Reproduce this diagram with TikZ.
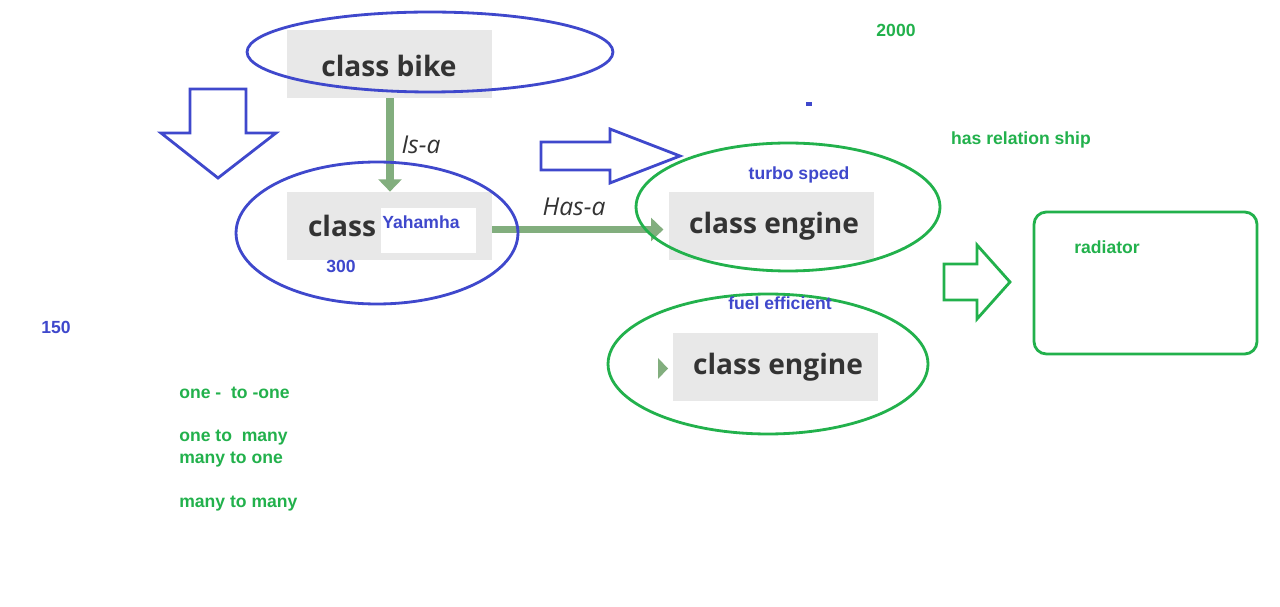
\documentclass[tikz,border=0pt]{standalone}
\usepackage{fontspec}
\setmainfont{Liberation Sans}
\newfontfamily\classfont{Open Sans}
\usepackage{xcolor}
\usetikzlibrary{arrows.meta,positioning,shapes.geometric}
\definecolor{paintblue}{HTML}{3F48CC}
\definecolor{paintgreen}{HTML}{22B14C}
\definecolor{sage}{HTML}{82AE7E}
\definecolor{boxgray}{HTML}{E8E8E8}
\definecolor{inkgray}{HTML}{333333}
\tikzset{
  classbox/.style={fill=boxgray, minimum width=4.1cm, minimum height=1.36cm, inner sep=0pt},
  classtext/.style={font=\classfont\bfseries\fontsize{16}{19}\selectfont, text=inkgray, inner sep=0pt},
  bluering/.style={ellipse, draw=paintblue, line width=1.6pt, inner sep=0pt},
  greenring/.style={ellipse, draw=paintgreen, line width=1.6pt, inner sep=0pt},
  relarrow/.style={-{Triangle[width=13pt,length=7pt]}, line width=4.5pt, draw=sage},
  rellabel/.style={font=\classfont\itshape\fontsize{14}{17}\selectfont, text=inkgray, inner sep=0pt},
  bluenote/.style={font=\bfseries\fontsize{10}{12}\selectfont, text=paintblue, inner sep=0pt},
  greennote/.style={font=\bfseries\fontsize{10}{12}\selectfont, text=paintgreen, inner sep=0pt},
  blockarrow/.style={line width=1.6pt, line join=miter}
}
\begin{document}
\begin{tikzpicture}[x=0.02cm, y=-0.02cm]
    \useasboundingbox[fill=white] (0,0) rectangle (1280,607);

    % class boxes
    \node[classbox] (bike) at (389.5,64) {};
    \node[classtext] (biketext) at (389,66) {class bike};
    \node[classbox] (yamaha) at (389.5,226) {};
    \node[fill=white, minimum width=1.9cm, minimum height=0.9cm, inner sep=0pt] (yamahaslot) at (428.5,230.5) {};
    \node[classtext] (yamahatext) at (342,226) {class};
    \node[bluenote] (yamahaname) at (421,222) {Yahamha};
    \node[classbox] (turbo) at (771.5,226) {};
    \node[classtext] (turbotext) at (774,226) {class engine};
    \node[classbox] (fuel) at (775.5,367) {};
    \node[classtext] (fueltext) at (778,367) {class engine};
    \node[draw=paintgreen, line width=1.6pt, rounded corners=7pt, minimum width=4.46cm, minimum height=2.84cm] (radiator) at (1145.5,283) {};

    % relations
    \draw[relarrow] (bike.south -| 390,0) -- (yamaha.north -| 390,0);
    \node[rellabel] (isa) at (421,145) {Is-a};
    \draw[relarrow] ([yshift=-2]yamaha.east) -- ([xshift=-3,yshift=-2]turbo.west);
    \node[rellabel] (hasa) at (574,207) {Has-a};
    \fill[sage] (658,358) -- (668,368.5) -- (658,379) -- cycle;

    % block arrows
    \draw[blockarrow, paintblue] (190,89) -- (246,89) -- (246,133) -- (276,133) -- (218,178) -- (161,133) -- (190,133) -- cycle;
    \draw[blockarrow, paintblue] (541,142) -- (610,142) -- (610,129) -- (680,156) -- (610,183) -- (610,170) -- (541,170) -- cycle;
    \draw[blockarrow, paintgreen] (944,264) -- (977,264) -- (977,245) -- (1010,282) -- (977,319) -- (977,300) -- (944,300) -- cycle;
    \draw[paintblue, line width=2pt] (806,104) -- (812,104);

    % rings
    \node[bluering, minimum width=7.32cm, minimum height=1.6cm] (bikering) at (430,52) {};
    \node[bluering, minimum width=5.64cm, minimum height=2.84cm] (yamaharing) at (377,233) {};
    \node[greenring, minimum width=6.08cm, minimum height=2.56cm] (turboring) at (788,207) {};
    \node[greenring, minimum width=6.4cm, minimum height=2.8cm] (fuelring) at (768,364) {};

    % notes
    \node[bluenote] (price) at (341,266) {300};
    \node[bluenote] (speed) at (799,175) {turbo speed};
    \node[bluenote] (efficient) at (780,303) {fuel efficient};
    \node[bluenote] (cc) at (56,327) {150};
    \node[greennote] (rpm) at (896,30) {2000};
    \node[greennote] (hasrel) at (1021,140) {has relation ship};
    \node[greennote] (part) at (1107,247) {radiator};
    \node[greennote, anchor=west] (onetoone) at (179,393) {one -\ \ to -one};
    \node[greennote, anchor=west] (onetomany) at (179,438) {one to\ \ many};
    \node[greennote, anchor=west] (manytoone) at (179,460) {many to one};
    \node[greennote, anchor=west] (manytomany) at (179,504) {many to many};
  \end{tikzpicture}
\end{document}
